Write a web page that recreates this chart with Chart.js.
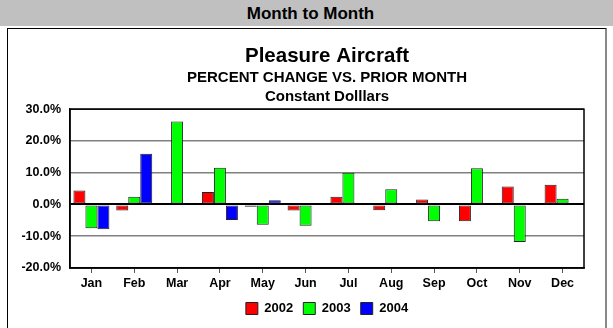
<!DOCTYPE html>
<html>
<head>
<meta charset="utf-8">
<script src="https://cdn.jsdelivr.net/npm/chart.js@4"></script>
<style>
  body { margin: 0; background: #fff; font-family: "Liberation Sans", Arial, sans-serif; }
  #header {
    position: absolute; left: 0; top: 0; width: 613px; height: 26px;
    background: #c0c0c0; text-align: center; line-height: 27px;
    font-weight: bold; font-size: 17px; color: #000; padding-left: 8px; box-sizing: border-box;
  }
  #frame {
    position: absolute; left: 7px; top: 28px; width: 597px; height: 320px;
    border-left: 1px solid #000; border-top: 1px solid #000; border-right: 2px solid #888;
  }
  #wrap { position: absolute; left: 8px; top: 29px; width: 597px; height: 299px; }
</style>
</head>
<body>
<div id="header">Month to Month</div>
<div id="frame"></div>
<div id="wrap"><canvas id="grafico"></canvas></div>
<script>
const meses = ["Jan", "Feb", "Mar", "Apr", "May", "Jun", "Jul", "Aug", "Sep", "Oct", "Nov", "Dec"];
const anios = ["2002", "2003", "2004"];
const v2002 = [4.4, -1.9, -0.3, 3.9, -0.7, -1.9, 2.4, -1.8, 1.6, -5.3, 5.7, 6.2];
const v2003 = [-7.5, 2.4, 26.1, 11.6, -6.4, -6.7, 10.0, 4.8, -5.3, 11.4, -11.8, 1.8];
const v2004 = [-7.8, 16.0, -0.3, -4.9, 1.3, null, null, null, null, null, null, null];
const colores = ["#ff0000", "#00ff00", "#0000ff"];
const fuente = "'Liberation Sans', Arial, sans-serif";

// marco negro alrededor del área de trazado
const marco = {
  id: "marco",
  afterDatasetsDraw(chart) {
    const a = chart.chartArea, c = chart.ctx;
    c.save();
    c.strokeStyle = "#000";
    c.lineWidth = 1.5;
    c.strokeRect(a.left, a.top, a.right - a.left, a.bottom - a.top);
    c.restore();
  }
};

new Chart(document.getElementById("grafico"), {
  type: "bar",
  data: {
    labels: meses,
    datasets: [v2002, v2003, v2004].map((d, i) => ({
      label: anios[i],
      data: d,
      backgroundColor: colores[i],
      borderColor: "#222",
      borderWidth: 1,
      borderSkipped: false,
      categoryPercentage: 0.84,
      barPercentage: 1.0
    }))
  },
  options: {
    responsive: true,
    maintainAspectRatio: false,
    animation: false,
    layout: { padding: { left: 0, right: 21, top: 0, bottom: 3 } },
    plugins: {
      tooltip: { enabled: false },
      // títulos y leyenda centrados sobre el área de barras (fullSize: false)
      title: {
        display: true,
        fullSize: false,
        text: "Pleasure Aircraft",
        color: "#000",
        font: { family: fuente, size: 20.5, weight: "bold", lineHeight: 1.2 },
        padding: { top: 15.5, bottom: 0 }
      },
      subtitle: {
        display: true,
        fullSize: false,
        text: ["PERCENT CHANGE VS. PRIOR MONTH", "Constant Dolllars"],
        color: "#000",
        font: { family: fuente, size: 15, weight: "bold", lineHeight: 1.22 },
        padding: { top: 0, bottom: 3.5 }
      },
      legend: {
        position: "bottom",
        fullSize: false,
        labels: {
          color: "#000",
          boxWidth: 12,
          boxHeight: 12,
          padding: 10,
          font: { family: fuente, size: 13, weight: "bold" }
        }
      }
    },
    scales: {
      x: {
        afterFit(s) { s.height = 24; },
        grid: { offset: false, drawOnChartArea: false, drawTicks: true, tickLength: 5, color: "#555" },
        border: { color: "#000", width: 1.5 },
        ticks: { color: "#000", padding: 3, maxRotation: 0, font: { family: fuente, size: 12.5, weight: "bold" } }
      },
      y: {
        min: -20,
        max: 30,
        afterFit(s) { s.width = 62; },
        grid: {
          drawTicks: false,
          color: ctx => ctx.tick && ctx.tick.value === 0 ? "#000" : "#808080",
          lineWidth: ctx => ctx.tick && ctx.tick.value === 0 ? 2 : 1.5
        },
        border: { color: "#000", width: 1.5 },
        ticks: {
          stepSize: 10,
          padding: 9,
          color: "#000",
          font: { family: fuente, size: 12.5, weight: "bold" },
          callback: v => v.toFixed(1) + "%"
        }
      }
    }
  },
  plugins: [marco]
});
</script>
</body>
</html>
